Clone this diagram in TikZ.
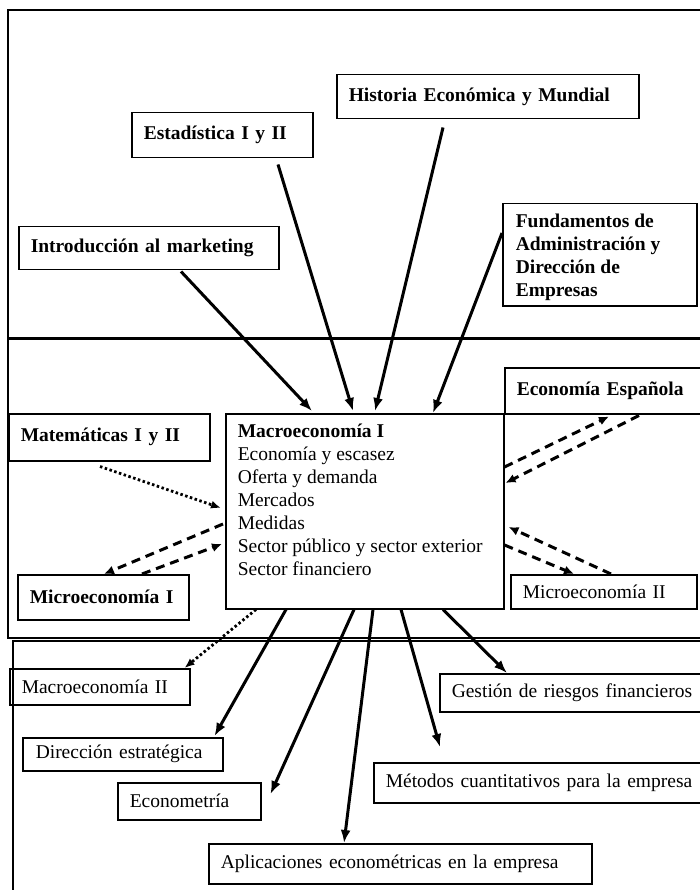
\documentclass[tikz,border=0pt]{standalone}
\usepackage{fontspec}
\setmainfont{Liberation Serif}
\usetikzlibrary{calc,arrows.meta}

\newcommand{\coursefont}{\fontsize{19.5}{23}\selectfont}
\tikzset{
    course/.style={draw, line width=1.5pt, anchor=north west, inner xsep=12pt, inner ysep=0pt, align=left, font=\coursefont},
    core/.style={course, font=\coursefont\bfseries},
    req/.style={-{Latex[length=13pt,width=10pt]}, line width=3pt},
    both/.style={-{Latex[length=10pt,width=9pt]}, line width=3pt, dash pattern=on 9pt off 6pt},
    opt/.style={-{Latex[length=10pt,width=8pt]}, line width=2.8pt, dash pattern=on 2.5pt off 2.5pt},
}

\begin{document}
\begin{tikzpicture}[x=1pt, y=-1pt]
        \useasboundingbox (0,0) rectangle (700,890);
        \clip (0,0) rectangle (700,890);

        % Frames of the three bands
        \draw [line width=1.5pt] (720,10) -- (8,10) -- (8,338);
        \draw [line width=3pt] (8,338) -- (720,338);
        \draw [line width=1.5pt] (8,338) -- (8,638) -- (720,638);
        \draw [line width=1.5pt] (13,900) -- (13,641) -- (720,641);

        % Define nodes
        \node [core, text width=278pt, minimum height=44pt] (hist) at (336,74) {Historia Económica y Mundial};
        \node [core, text width=157pt, minimum height=45pt] (estad) at (131,112) {Estadística I y II};
        \node [core, text width=236pt, minimum height=43pt] (intro) at (18,226) {Introducción al marketing};
        \node [core, inner xsep=13pt, inner ysep=10pt] (fund) at (502,203) {\parbox[c][82pt][t]{168pt}{Fundamentos de\\ Administración y\\ Dirección de\\ Empresas}};
        \node [core, text width=206pt, minimum height=46pt] (econesp) at (504,367) {Economía Española};
        \node [core, text width=177pt, minimum height=47pt] (mate) at (8,413) {Matemáticas I y II};
        \node [course, inner ysep=10pt] (macro) at (225,413) {\parbox[c][175pt][t]{254pt}{\textbf{Macroeconomía I}\\ Economía y escasez\\ Oferta y demanda\\ Mercados\\ Medidas\\ Sector público y sector exterior\\ Sector financiero}};
        \node [core, text width=147pt, minimum height=45pt] (micro1) at (17,574) {Microeconomía I};
        \node [course, text width=162pt, minimum height=34pt] (micro2) at (510,574) {Microeconomía II};
        \node [course, text width=156pt, minimum height=36pt] (macro2) at (9,668) {Macroeconomía II};
        \node [course, text width=174pt, minimum height=33pt, inner xsep=13pt] (direc) at (22,737) {Dirección estratégica};
        \node [course, text width=119pt, minimum height=37pt] (econom) at (117,782) {Econometría};
        \node [course, text width=359pt, minimum height=40pt] (aplic) at (208,843) {Aplicaciones econométricas en la empresa};
        \node [course, text width=316pt, minimum height=40pt] (metod) at (373,762) {Métodos cuantitativos para la empresa};
        \node [course, text width=256pt, minimum height=38pt] (gest) at (439,673) {Gestión de riesgos financieros};

        % Arrows into Macroeconomía I
        \draw [req] ($(intro.south west)+(163,1)$) -- ($(macro.north west)+(87,-2)$);
        \draw [req] ($(estad.south west)+(147,6)$) -- ($(macro.north west)+(128,-2)$);
        \draw [req] ($(hist.south west)+(107,8)$) -- ($(macro.north west)+(150,-2)$);
        \draw [req] ($(fund.north west)+(0,30)$) -- ($(macro.north west)+(208,0)$);
        \draw [opt] ($(mate.south west)+(92,5)$) -- ($(macro.north west)+(-4,95)$);

        % Dashed arrows both ways
        \draw [both] ($(macro.north east)+(0,54)$) -- ($(econesp.south west)+(105,2)$);
        \draw [both] ($(econesp.south west)+(135,1)$) -- ($(macro.north east)+(1,70)$);
        \draw [both] ($(macro.north west)+(-2,111)$) -- ($(micro1.north west)+(87,0)$);
        \draw [both] ($(micro1.north west)+(125,0)$) -- ($(macro.north west)+(-3,131)$);
        \draw [both] ($(micro2.north west)+(101,0)$) -- ($(macro.north east)+(4,114)$);
        \draw [both] ($(macro.north east)+(0,132)$) -- ($(micro2.north west)+(64,0)$);

        % Arrows out of Macroeconomía I
        \draw [opt] ($(macro.south west)+(31,0)$) -- ($(macro2.north east)+(-6,0)$);
        \draw [req] ($(macro.south west)+(61,0)$) -- ($(direc.north east)+(-9,-1)$);
        \draw [req] ($(macro.south west)+(129,0)$) -- ($(econom.north east)+(9,12)$);
        \draw [req] ($(macro.south west)+(148,0)$) -- ($(aplic.north west)+(136,0)$);
        \draw [req] ($(macro.south west)+(176,0)$) -- ($(metod.north west)+(67,-15)$);
        \draw [req] ($(macro.south west)+(218,0)$) -- ($(gest.north west)+(68,0)$);
    \end{tikzpicture}
\end{document}
